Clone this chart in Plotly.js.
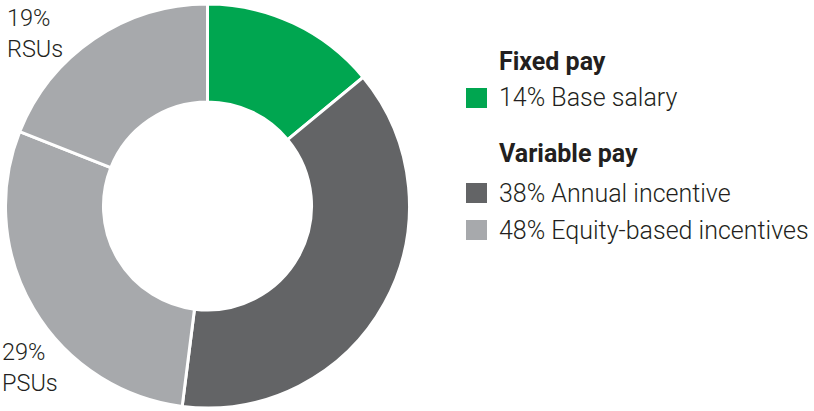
<!DOCTYPE html>
<html>
<head>
<meta charset="utf-8">
<script src="https://cdn.plot.ly/plotly-3.0.1.min.js"></script>
<style>
html,body{margin:0;padding:0;background:#fff;}
#chart{width:814px;height:411px;}
</style>
</head>
<body>
<div id="chart"></div>
<script>
// Data
const sliceLabels = ['Base salary', 'Annual incentive', 'PSUs', 'RSUs'];
const sliceValues = [14, 38, 29, 19];
const sliceColors = ['#00a650', '#636466', '#a7a9ac', '#a7a9ac'];

const calloutLines = [['19%', 'RSUs'], ['29%', 'PSUs']];

const legendHeadings = ['Fixed pay', 'Variable pay'];
const legendItems = ['14% Base salary', '38% Annual incentive', '48% Equity-based incentives'];
const legendColors = ['#00a650', '#636466', '#a7a9ac'];

const W = 814, H = 411;
const FONT = 'Roboto, "Noto Sans", sans-serif';
const TXT = '#231f20';
const px = x => x / W;
const py = y => 1 - y / H;

const trace = {
  type: 'pie',
  labels: sliceLabels,
  values: sliceValues,
  marker: {colors: sliceColors, line: {color: '#ffffff', width: 3}},
  hole: 0.515,
  sort: false,
  direction: 'clockwise',
  rotation: 0,
  textinfo: 'none',
  hoverinfo: 'label+value',
  showlegend: false,
  domain: {x: [px(5.5), px(409.5)], y: [py(408), py(4)]}
};

const annotations = [];
const shapes = [];

// Callout labels on the donut
const calloutPos = [{x: 5, y: 33}, {x: 0, y: 367}];
calloutLines.forEach((lines, i) => {
  annotations.push({
    xref: 'paper', yref: 'paper', x: px(calloutPos[i].x), y: py(calloutPos[i].y),
    xanchor: 'left', yanchor: 'middle', align: 'left', showarrow: false,
    text: lines.join('<br>'),
    font: {family: FONT, size: 23.5, color: TXT, weight: 300}
  });
});

// Legend headings
const headY = [61, 153];
legendHeadings.forEach((h, i) => {
  annotations.push({
    xref: 'paper', yref: 'paper', x: px(497), y: py(headY[i]),
    xanchor: 'left', yanchor: 'middle', showarrow: false,
    text: '<b>' + h + '</b>',
    font: {family: FONT, size: 25, color: TXT}
  });
});

// Legend items
const itemY = [98, 193, 230];
legendItems.forEach((t, i) => {
  shapes.push({
    type: 'rect', xref: 'paper', yref: 'paper',
    x0: px(466), x1: px(487), y0: py(itemY[i] - 10), y1: py(itemY[i] + 10),
    fillcolor: legendColors[i], line: {width: 0}
  });
  annotations.push({
    xref: 'paper', yref: 'paper', x: px(497), y: py(itemY[i]),
    xanchor: 'left', yanchor: 'middle', showarrow: false,
    text: t,
    font: {family: FONT, size: 25, color: TXT, weight: 300}
  });
});

const layout = {
  width: W, height: H,
  margin: {l: 0, r: 0, t: 0, b: 0},
  paper_bgcolor: '#ffffff',
  plot_bgcolor: '#ffffff',
  showlegend: false,
  annotations: annotations,
  shapes: shapes
};

Plotly.newPlot('chart', [trace], layout, {displayModeBar: false, staticPlot: true});
</script>
</body>
</html>
